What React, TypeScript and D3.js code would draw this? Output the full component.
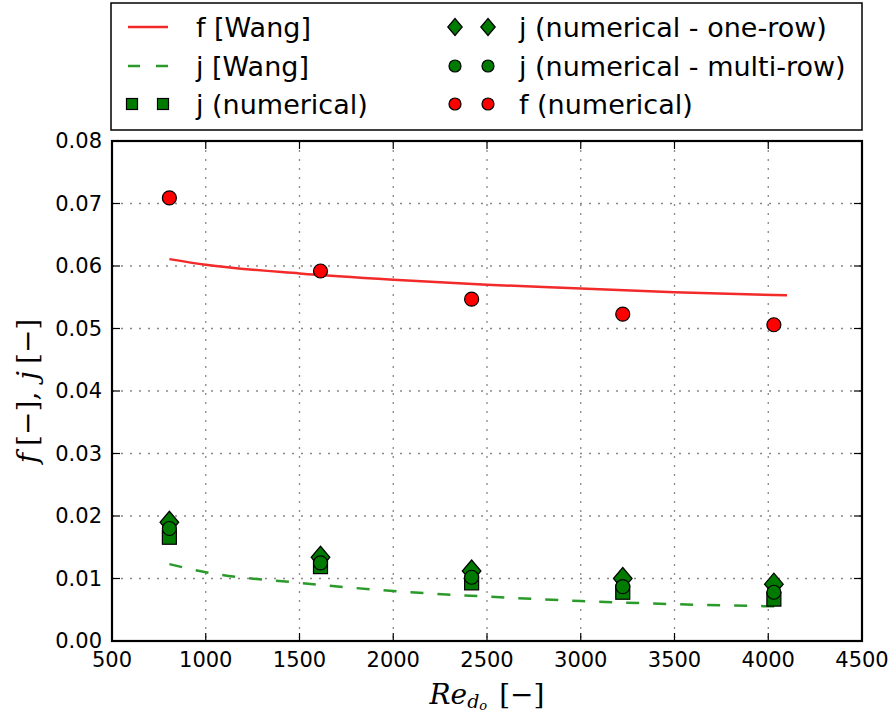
import React from "react";
import * as d3 from "d3";

// Reynolds numbers of the simulated cases
const reynolds = [806, 1612, 2418, 3224, 4030];
// Numerical friction factor
const fNumerical = [0.0709, 0.0592, 0.0547, 0.0523, 0.0506];
// Numerical Colburn factors
const jNumerical = [0.0166, 0.0119, 0.0093, 0.0078, 0.0067];
const jMultiRow = [0.018, 0.0125, 0.0102, 0.0087, 0.0078];
const jOneRow = [0.019, 0.0134, 0.0112, 0.01, 0.0091];

// Wang correlation curves
const wangRe = [806, 1000, 1500, 2000, 2500, 3000, 3500, 4100];
const fWang = [0.0611, 0.0602, 0.0588, 0.0578, 0.057, 0.0564, 0.0558, 0.0553];
const jWang = [0.0123, 0.011, 0.0093, 0.008, 0.0071, 0.0064, 0.0059, 0.0055];

const xTicks = [500, 1000, 1500, 2000, 2500, 3000, 3500, 4000, 4500];
const yTicks = [0, 0.01, 0.02, 0.03, 0.04, 0.05, 0.06, 0.07, 0.08];

const W = 893;
const H = 720;
const L = 112;
const R = 862;
const T = 141;
const B = 641;

const FONT = "DejaVu Sans, sans-serif";
const MATH = "DejaVu Serif, serif";
const RED = "#ff0000";
const LINE_RED = "#f22a2a";
const GREEN = "#007a00";
const LINE_GREEN = "#2a9a2a";

function Square({ x, y, s = 14 }: { x: number; y: number; s?: number }) {
  return (
    <rect x={x - s / 2} y={y - s / 2} width={s} height={s} fill={GREEN} stroke="#000" strokeWidth={1.2} />
  );
}
function Diamond({ x, y, r = 11 }: { x: number; y: number; r?: number }) {
  return (
    <path
      d={`M${x},${y - r}L${x + r * 0.85},${y}L${x},${y + r}L${x - r * 0.85},${y}Z`}
      fill={GREEN}
      stroke="#000"
      strokeWidth={1.2}
    />
  );
}
function Dot({ x, y, r = 7, fill }: { x: number; y: number; r?: number; fill: string }) {
  return <circle cx={x} cy={y} r={r} fill={fill} stroke="#000" strokeWidth={1.2} />;
}

export default function App() {
  const x = d3.scaleLinear().domain([500, 4500]).range([L, R]);
  const y = d3.scaleLinear().domain([0, 0.08]).range([B, T]);

  const line = d3
    .line<number>()
    .x((_, i) => x(wangRe[i]))
    .y((d) => y(d))
    .curve(d3.curveMonotoneX);

  const legendRows = [27, 66, 104];
  const c1 = 128;
  const c2 = 453;
  const LFS = 27;

  return (
    <svg width={W} height={H} style={{ position: "absolute", left: 0, top: 0, background: "#fff" }}>
      {/* legend */}
      <rect x={111} y={3} width={751} height={127} fill="#fff" stroke="#000" strokeWidth={1.5} />
      <line x1={c1} x2={c1 + 40} y1={legendRows[0]} y2={legendRows[0]} stroke={LINE_RED} strokeWidth={2.5} />
      <text x={196} y={legendRows[0]} fontFamily={FONT} fontSize={LFS} dominantBaseline="central">f [Wang]</text>
      <line x1={c1} x2={c1 + 40} y1={legendRows[1]} y2={legendRows[1]} stroke={LINE_GREEN} strokeWidth={2.5} strokeDasharray="12,16" />
      <text x={196} y={legendRows[1]} fontFamily={FONT} fontSize={LFS} dominantBaseline="central">j [Wang]</text>
      <Square x={c1 + 4} y={legendRows[2]} s={11} />
      <Square x={c1 + 35} y={legendRows[2]} s={11} />
      <text x={196} y={legendRows[2]} fontFamily={FONT} fontSize={LFS} dominantBaseline="central">j (numerical)</text>
      <Diamond x={c2 + 2} y={legendRows[0]} r={8.5} />
      <Diamond x={c2 + 35} y={legendRows[0]} r={8.5} />
      <text x={519} y={legendRows[0]} fontFamily={FONT} fontSize={LFS} dominantBaseline="central">j (numerical - one-row)</text>
      <Dot x={c2 + 2} y={legendRows[1]} r={6} fill={GREEN} />
      <Dot x={c2 + 35} y={legendRows[1]} r={6} fill={GREEN} />
      <text x={519} y={legendRows[1]} fontFamily={FONT} fontSize={LFS} dominantBaseline="central">j (numerical - multi-row)</text>
      <Dot x={c2 + 2} y={legendRows[2]} r={6} fill={RED} />
      <Dot x={c2 + 35} y={legendRows[2]} r={6} fill={RED} />
      <text x={519} y={legendRows[2]} fontFamily={FONT} fontSize={LFS} dominantBaseline="central">f (numerical)</text>

      {/* grid */}
      {xTicks.slice(1, -1).map((t) => (
        <line key={"gx" + t} x1={x(t)} x2={x(t)} y1={T} y2={B} stroke="#888" strokeWidth={1.3} strokeDasharray="2,7" />
      ))}
      {yTicks.slice(1, -1).map((t) => (
        <line key={"gy" + t} x1={L} x2={R} y1={y(t)} y2={y(t)} stroke="#888" strokeWidth={1.3} strokeDasharray="2,7" />
      ))}

      {/* ticks (inward, all four sides) */}
      {xTicks.map((t) => (
        <g key={"tx" + t}>
          <line x1={x(t)} x2={x(t)} y1={B} y2={B - 8} stroke="#000" strokeWidth={1.2} />
          <line x1={x(t)} x2={x(t)} y1={T} y2={T + 8} stroke="#000" strokeWidth={1.2} />
          <text x={x(t)} y={660} textAnchor="middle" dominantBaseline="central" fontFamily={FONT} fontSize={21}>
            {t}
          </text>
        </g>
      ))}
      {yTicks.map((t) => (
        <g key={"ty" + t}>
          <line x1={L} x2={L + 8} y1={y(t)} y2={y(t)} stroke="#000" strokeWidth={1.2} />
          <line x1={R} x2={R - 8} y1={y(t)} y2={y(t)} stroke="#000" strokeWidth={1.2} />
          <text x={102} y={y(t)} textAnchor="end" dominantBaseline="central" fontFamily={FONT} fontSize={21}>
            {t.toFixed(2)}
          </text>
        </g>
      ))}

      {/* correlation curves */}
      <path d={line(fWang) ?? ""} fill="none" stroke={LINE_RED} strokeWidth={2.5} />
      <path d={line(jWang) ?? ""} fill="none" stroke={LINE_GREEN} strokeWidth={2.5} strokeDasharray="13,14" />

      {/* numerical results */}
      {reynolds.map((re, i) => (
        <g key={"m" + re}>
          <Square x={x(re)} y={y(jNumerical[i])} />
          <Diamond x={x(re)} y={y(jOneRow[i])} />
          <Dot x={x(re)} y={y(jMultiRow[i])} fill={GREEN} />
          <Dot x={x(re)} y={y(fNumerical[i])} fill={RED} />
        </g>
      ))}

      {/* frame */}
      <rect x={L} y={T} width={R - L} height={B - T} fill="none" stroke="#000" strokeWidth={2.2} />

      {/* axis labels */}
      <text
        transform={`translate(27,${(T + B) / 2}) rotate(-90)`}
        textAnchor="middle"
        dominantBaseline="central"
        fontFamily={MATH}
        fontSize={28}
      >
        <tspan fontStyle="italic">f</tspan>
        <tspan dx={7}>[−],</tspan>
        <tspan fontStyle="italic" dx={12}>j</tspan>
        <tspan dx={7}>[−]</tspan>
      </text>
      <text x={487} y={694} textAnchor="middle" dominantBaseline="central" fontFamily={MATH} fontSize={28}>
        <tspan fontStyle="italic">Re</tspan>
        <tspan fontStyle="italic" fontSize={19} dy={7}>d</tspan>
        <tspan fontStyle="italic" fontSize={13} dy={4}>o</tspan>
        <tspan dy={-11} dx={12}>[−]</tspan>
      </text>
    </svg>
  );
}
